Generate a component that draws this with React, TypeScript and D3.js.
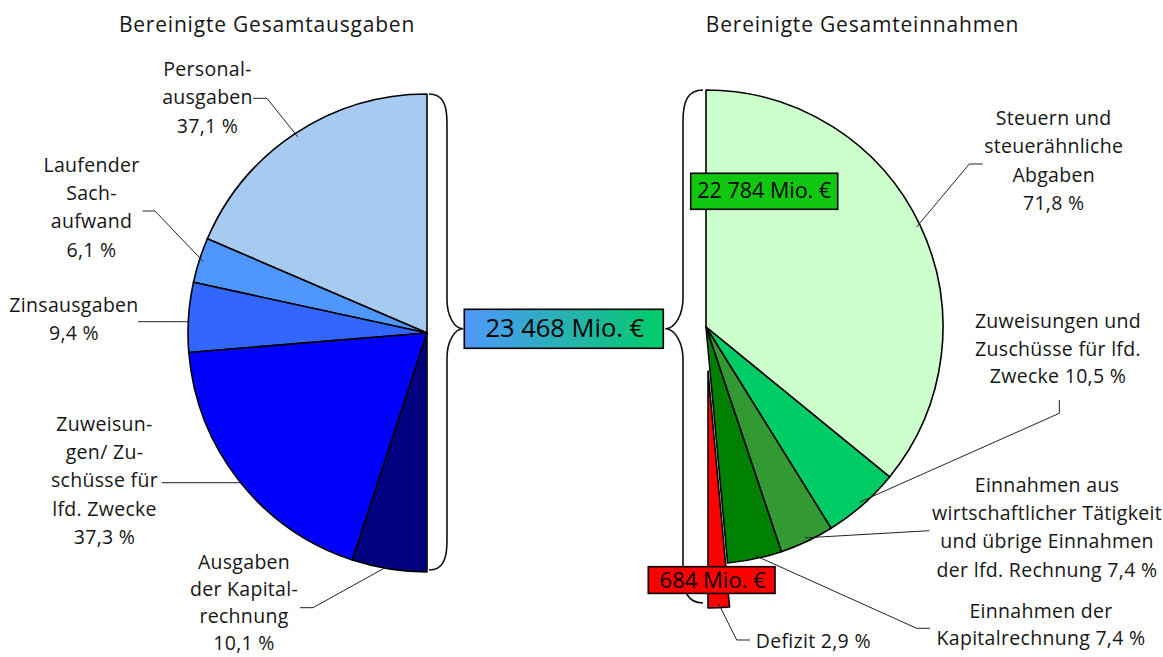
import React from "react";
import * as d3 from "d3";

// ---------- data ----------
const titles = ["Bereinigte Gesamtausgaben", "Bereinigte Gesamteinnahmen"];

const expenseCategories = [
  "Personalausgaben",
  "Laufender Sachaufwand",
  "Zinsausgaben",
  "Zuweisungen/Zuschüsse für lfd. Zwecke",
  "Ausgaben der Kapitalrechnung",
];
const expenseShares = [37.1, 6.1, 9.4, 37.3, 10.1];
const expenseLabelLines = [
  ["Personal-", "ausgaben", "37,1 %"],
  ["Laufender", "Sach-", "aufwand", "6,1 %"],
  ["Zinsausgaben", "9,4 %"],
  ["Zuweisun-", "gen/ Zu-", "schüsse für", "lfd. Zwecke", "37,3 %"],
  ["Ausgaben", "der Kapital-", "rechnung", "10,1 %"],
];
const expenseColors = ["#A6CAF0", "#4F97FF", "#3366FF", "#0000FF", "#000080"];

const incomeCategories = [
  "Steuern und steuerähnliche Abgaben",
  "Zuweisungen und Zuschüsse für lfd. Zwecke",
  "Einnahmen aus wirtschaftlicher Tätigkeit und übrige Einnahmen der lfd. Rechnung",
  "Einnahmen der Kapitalrechnung",
  "Defizit",
];
const incomeShares = [71.8, 10.5, 7.4, 7.4, 2.9];
const incomeLabelLines = [
  ["Steuern und", "steuerähnliche", "Abgaben", "71,8 %"],
  ["Zuweisungen und", "Zuschüsse für lfd.", "Zwecke 10,5 %"],
  ["Einnahmen aus", "wirtschaftlicher Tätigkeit", "und übrige Einnahmen", "der lfd. Rechnung 7,4 %"],
  ["Einnahmen der", "Kapitalrechnung 7,4 %"],
  ["Defizit 2,9 %"],
];
const incomeColors = ["#CCFFCC", "#00CC66", "#339933", "#008000", "#FF0000"];
const incomeExploded = [false, false, false, false, true];

const totalExpenseText = "23 468 Mio. €";
const totalIncomeText = "22 784 Mio. €";
const deficitText = "684 Mio. €";

// ---------- layout ----------
const W = 1163;
const H = 657;
const FONT = "'Open Sans', 'Noto Sans', sans-serif";
const TEXT = "#161616";
const LINE_H = 28.3;

const L = { cx: 427, cy: 333, r: 239 };
const R = { cx: 706, cy: 327, r: 237, explode: 44 };

type LabelPos = { x: number; y: number; leader: [number, number][]; mode?: "h"; lh?: number };

const expenseLabelPos: LabelPos[] = [
  { x: 207.5, y: 76, leader: [[253, 98.3], [267, 98.3]] },
  { x: 91.5, y: 171.7, leader: [[142.7, 211], [155, 211]] },
  { x: 74, y: 311.7, leader: [[138, 321.7]], mode: "h" },
  { x: 104.5, y: 430.7, leader: [[161.7, 482.7]], mode: "h" },
  { x: 244, y: 568.5, leader: [[300, 607.7], [313, 607.7]], lh: 27.2 },
];
const incomeLabelPos: LabelPos[] = [
  { x: 1053.7, y: 125, leader: [[982.7, 164], [969.3, 164]] },
  { x: 1058, y: 328.3, leader: [[1059.3, 400], [1059.3, 413.3]], lh: 27.5 },
  { x: 1047, y: 491.7, leader: [[929.3, 530.7]], lh: 28.3 },
  { x: 1041, y: 618.3, leader: [[930, 628.3], [916.7, 628.3]], lh: 26.7 },
  { x: 813.3, y: 648.3, leader: [[750, 640], [736.7, 640]] },
];

function bracePath(x0: number, x1: number, x2: number, yTop: number, yBot: number, yTip: number, h: number) {
  const p = d3.path();
  p.moveTo(x0, yTop);
  p.bezierCurveTo(x0 + (x1 - x0) * 0.75, yTop, x1, yTop + h * 0.35, x1, yTop + h);
  p.lineTo(x1, yTip - h);
  p.bezierCurveTo(x1, yTip - h * 0.45, x2 - (x2 - x1) * 0.55, yTip, x2, yTip);
  p.bezierCurveTo(x2 - (x2 - x1) * 0.55, yTip, x1, yTip + h * 0.45, x1, yTip + h);
  p.lineTo(x1, yBot - h);
  p.bezierCurveTo(x1, yBot - h * 0.35, x0 + (x1 - x0) * 0.75, yBot, x0, yBot);
  return p.toString();
}

export default function App() {
  const pieLeft = d3.pie<number>().sort(null).value((d) => d).startAngle(0).endAngle(-Math.PI);
  const pieRight = d3.pie<number>().sort(null).value((d) => d).startAngle(0).endAngle(Math.PI);
  const leftArcs = pieLeft(expenseShares);
  const rightArcs = pieRight(incomeShares);
  const arcL = d3.arc<d3.PieArcDatum<number>>().innerRadius(0).outerRadius(L.r);
  const arcR = d3.arc<d3.PieArcDatum<number>>().innerRadius(0).outerRadius(R.r);

  const mid = (d: d3.PieArcDatum<number>) => (d.startAngle + d.endAngle) / 2;
  const offsetR = (i: number) => {
    if (!incomeExploded[i]) return [0, 0];
    const a = mid(rightArcs[i]);
    return [R.explode * Math.sin(a), -R.explode * Math.cos(a)];
  };

  // boxes
  const boxC = { x: 464.3, y: 309.3, w: 199, h: 39 };
  const boxG = { x: 690.7, y: 173.3, w: 147, h: 36 };
  const boxRd = { x: 648.3, y: 566.7, w: 126.7, h: 26.7 };
  const tipY = boxC.y + boxC.h / 2;

  const defOff = offsetR(4);
  const rightBottom = R.cy + defOff[1] + R.r - 5;

  const leftBrace = bracePath(L.cx + 2, L.cx + 20, boxC.x - 1, L.cy - L.r, L.cy + L.r - 2, tipY, 29);
  const rightBrace = bracePath(R.cx - 3, R.cx - 23, boxC.x + boxC.w + 2, R.cy - R.r, rightBottom, tipY, 31);

  const leaderPath = (
    pos: LabelPos,
    cx: number,
    cy: number,
    r: number,
    d: d3.PieArcDatum<number>,
    side: number,
    off: number[]
  ) => {
    const pts = pos.leader.slice();
    if (pos.mode === "h") {
      const y = pts[0][1];
      const x = cx + side * Math.sqrt(r * r - (y - cy) * (y - cy));
      pts.push([x, y]);
    } else {
      const a = mid(d);
      const rr = r - 4;
      pts.push([cx + off[0] + rr * Math.sin(a), cy + off[1] - rr * Math.cos(a)]);
    }
    return d3.line()(pts as [number, number][]) || "";
  };

  return (
    <svg
      width={W}
      height={H}
      viewBox={`0 0 ${W} ${H}`}
      style={{ position: "absolute", left: 0, top: 0, background: "#fff" }}
      fontFamily={FONT}
    >
      {/* titles */}
      <text x={267} y={31.5} textAnchor="middle" fontSize={21} fill={TEXT} letterSpacing={0.8}>
        {titles[0]}
      </text>
      <text x={862.5} y={31.5} textAnchor="middle" fontSize={21} fill={TEXT} letterSpacing={0.8}>
        {titles[1]}
      </text>

      {/* braces */}
      <path d={leftBrace} fill="none" stroke="#111" strokeWidth={1.6} />
      <path d={rightBrace} fill="none" stroke="#111" strokeWidth={1.6} />

      {/* left pie */}
      <g transform={`translate(${L.cx},${L.cy})`}>
        {leftArcs.map((d, i) => (
          <path key={expenseCategories[i]} d={arcL(d) || ""} fill={expenseColors[i]} stroke="#000" strokeWidth={1.6} strokeLinejoin="round" />
        ))}
      </g>

      {/* right pie */}
      {rightArcs.map((d, i) => {
        const o = offsetR(i);
        return (
          <g key={incomeCategories[i]} transform={`translate(${R.cx + o[0]},${R.cy + o[1]})`}>
            <path d={arcR(d) || ""} fill={incomeColors[i]} stroke="#000" strokeWidth={1.6} strokeLinejoin="round" />
          </g>
        );
      })}

      {/* leaders */}
      {expenseLabelPos.map((p, i) => (
        <path key={"ll" + i} d={leaderPath(p, L.cx, L.cy, L.r, leftArcs[i], -1, [0, 0])} fill="none" stroke="#222" strokeWidth={1} />
      ))}
      {incomeLabelPos.map((p, i) => (
        <path key={"rl" + i} d={leaderPath(p, R.cx, R.cy, R.r, rightArcs[i], 1, offsetR(i))} fill="none" stroke="#222" strokeWidth={1} />
      ))}

      {/* labels */}
      {expenseLabelLines.map((lines, i) => (
        <text key={"lt" + i} textAnchor="middle" fontSize={19.5} fill={TEXT} letterSpacing={0.3}>
          {lines.map((ln, j) => (
            <tspan key={j} x={expenseLabelPos[i].x} y={expenseLabelPos[i].y + j * (expenseLabelPos[i].lh || LINE_H)}>
              {ln}
            </tspan>
          ))}
        </text>
      ))}
      {incomeLabelLines.map((lines, i) => (
        <text key={"rt" + i} textAnchor="middle" fontSize={19.5} fill={TEXT} letterSpacing={0.3}>
          {lines.map((ln, j) => (
            <tspan key={j} x={incomeLabelPos[i].x} y={incomeLabelPos[i].y + j * (incomeLabelPos[i].lh || LINE_H)}>
              {ln}
            </tspan>
          ))}
        </text>
      ))}

      {/* value boxes */}
      <defs>
        <linearGradient id="totalGrad" x1="0" x2="1" y1="0" y2="0">
          <stop offset="0" stopColor={expenseColors[1]} />
          <stop offset="1" stopColor={incomeColors[1]} />
        </linearGradient>
      </defs>
      <rect x={boxC.x} y={boxC.y} width={boxC.w} height={boxC.h} fill="url(#totalGrad)" stroke="#000" strokeWidth={1.6} />
      <text x={boxC.x + boxC.w / 2 + 1} y={boxC.y + 28} textAnchor="middle" fontSize={25.5} fill="#000">
        {totalExpenseText}
      </text>

      <rect x={boxG.x} y={boxG.y} width={boxG.w} height={boxG.h} fill="#11C811" stroke="#000" strokeWidth={1.6} />
      <text x={boxG.x + boxG.w / 2} y={boxG.y + 25} textAnchor="middle" fontSize={21.5} fill="#000">
        {totalIncomeText}
      </text>

      <rect x={boxRd.x} y={boxRd.y} width={boxRd.w} height={boxRd.h} fill="#FF0000" stroke="#000" strokeWidth={1.6} />
      <text x={boxRd.x + boxRd.w / 2 + 1} y={boxRd.y + 21} textAnchor="middle" fontSize={22} fill="#000">
        {deficitText}
      </text>
    </svg>
  );
}
